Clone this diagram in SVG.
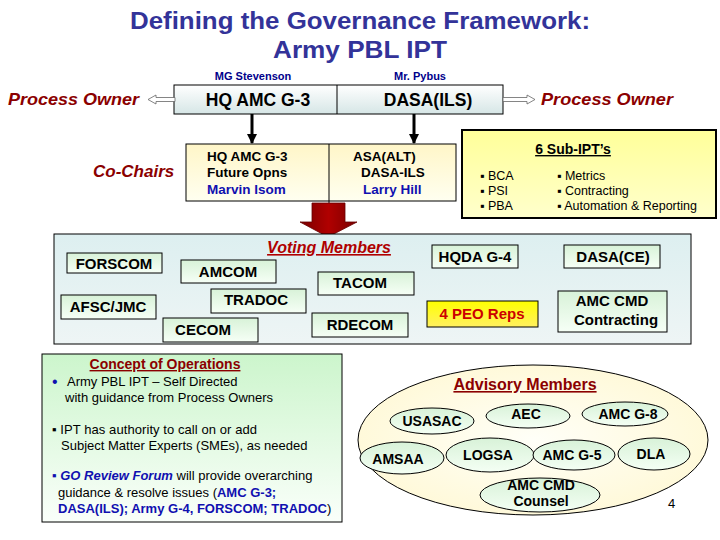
<svg xmlns="http://www.w3.org/2000/svg" width="720" height="540" viewBox="0 0 720 540">
<defs>
<linearGradient id="gTop" x1="0" y1="0" x2="0" y2="1"><stop offset="0" stop-color="#FFFFFF"/><stop offset="1" stop-color="#D6E6E6"/></linearGradient>
<linearGradient id="gCo" x1="0" y1="0" x2="0" y2="1"><stop offset="0" stop-color="#FFF6C8"/><stop offset="1" stop-color="#FFFFF0"/></linearGradient>
<linearGradient id="gSub" x1="0" y1="0" x2="0" y2="1"><stop offset="0" stop-color="#FFFF99"/><stop offset="1" stop-color="#FFFFCC"/></linearGradient>
<linearGradient id="gVote" x1="0" y1="0" x2="0" y2="1"><stop offset="0" stop-color="#DDEFF0"/><stop offset="1" stop-color="#EEF5F5"/></linearGradient>
<linearGradient id="gItem" x1="0" y1="0" x2="0" y2="1"><stop offset="0" stop-color="#D8F2D8"/><stop offset="1" stop-color="#F6FFF6"/></linearGradient>
<linearGradient id="gPeo" x1="0" y1="0" x2="0" y2="1"><stop offset="0" stop-color="#FFFF00"/><stop offset="1" stop-color="#FFF060"/></linearGradient>
<linearGradient id="gConc" x1="0" y1="0" x2="0" y2="1"><stop offset="0" stop-color="#CCF5CC"/><stop offset="1" stop-color="#FAFFFA"/></linearGradient>
<radialGradient id="gAdv" cx="0.5" cy="0.5" r="0.6"><stop offset="0" stop-color="#FFFFF8"/><stop offset="1" stop-color="#FFF8D4"/></radialGradient>
<linearGradient id="gEl" x1="0" y1="0" x2="0" y2="1"><stop offset="0" stop-color="#D8F2D8"/><stop offset="1" stop-color="#F4FFF4"/></linearGradient>
<linearGradient id="gRed" x1="0" y1="0" x2="1" y2="0"><stop offset="0" stop-color="#7A0000"/><stop offset="0.5" stop-color="#B00000"/><stop offset="1" stop-color="#7A0000"/></linearGradient>
<marker id="ah" viewBox="0 0 10 10" refX="9" refY="5" markerWidth="3.5" markerHeight="3.5" orient="auto"><path d="M0,0 L10,5 L0,10 z" fill="#000"/></marker>
</defs>
<style>
text{font-family:"Liberation Sans",Arial,sans-serif}
.title{font-size:24px;font-weight:bold;fill:#333399}
.po{font-size:17px;font-weight:bold;font-style:italic;fill:#8B0000}
.name{font-size:11px;font-weight:bold;fill:#00008B}
.big{font-size:17.5px;font-weight:bold;fill:#000}
.co{font-size:13.5px;font-weight:bold;fill:#000}
.blue{fill:#1010B0}
.sub{font-size:12.5px;fill:#000}
.item{font-size:15px;font-weight:bold;fill:#000;text-anchor:middle}
.bx{stroke:#000;stroke-width:1}
.conc{font-size:13px;fill:#000}
.hd{font-size:14px;font-weight:bold;fill:#8B0000;text-decoration:underline}
.el{stroke:#000;stroke-width:1;fill:url(#gEl)}
.adv{font-size:14px;font-weight:bold;fill:#000;text-anchor:middle}
</style>

<g id="title">
<text class="title" x="360" y="29" text-anchor="middle" textLength="460" lengthAdjust="spacingAndGlyphs">Defining the Governance Framework:</text>
<text class="title" x="360" y="58" text-anchor="middle" textLength="174" lengthAdjust="spacingAndGlyphs">Army PBL IPT</text>
</g>

<g id="labels">
<text class="po" x="8" y="105" textLength="131" lengthAdjust="spacingAndGlyphs">Process Owner</text>
<text class="po" x="541" y="105" textLength="132" lengthAdjust="spacingAndGlyphs">Process Owner</text>
<text class="po" x="93" y="177">Co-Chairs</text>
<text class="name" x="253" y="80" text-anchor="middle">MG Stevenson</text>
<text class="name" x="420" y="80" text-anchor="middle">Mr. Pybus</text>
</g>

<g id="top-box">
<rect x="174" y="85" width="329" height="29" fill="url(#gTop)" class="bx"/>
<line x1="337" y1="85" x2="337" y2="114" stroke="#000" stroke-width="1"/>
<text class="big" x="258" y="106" text-anchor="middle">HQ AMC G-3</text>
<text class="big" x="428" y="106" text-anchor="middle">DASA(ILS)</text>
</g>

<g id="cochair-box">
<rect x="186" y="144" width="270" height="57" fill="url(#gCo)" class="bx"/>
<line x1="329" y1="144" x2="329" y2="215" stroke="#000" stroke-width="1"/>
<text class="co" x="207" y="161">HQ AMC G-3</text>
<text class="co" x="207" y="177">Future Opns</text>
<text class="co blue" x="207" y="194">Marvin Isom</text>
<text class="co" x="353" y="161">ASA(ALT)</text>
<text class="co" x="361" y="177">DASA-ILS</text>
<text class="co blue" x="363" y="194">Larry Hill</text>
</g>

<g id="subipt-box">
<rect x="462" y="130" width="254" height="88" fill="url(#gSub)" stroke="#000" stroke-width="2"/>
<text x="573" y="154" text-anchor="middle" style="font-size:14px;font-weight:bold;text-decoration:underline">6 Sub-IPT’s</text>
<text class="sub" x="480" y="180">▪ BCA</text>
<text class="sub" x="480" y="195">▪ PSI</text>
<text class="sub" x="480" y="210">▪ PBA</text>
<text class="sub" x="557" y="180">▪ Metrics</text>
<text class="sub" x="557" y="195">▪ Contracting</text>
<text class="sub" x="557" y="210">▪ Automation &amp; Reporting</text>
</g>

<g id="connectors">
<polygon points="175,97.5 156,97.5 156,95 148,99.5 156,104 156,101.5 175,101.5" fill="#fff" stroke="#666" stroke-width="0.8"/>
<polygon points="503,97.5 527,97.5 527,95 535,99.5 527,104 527,101.5 503,101.5" fill="#fff" stroke="#666" stroke-width="0.8"/>
<line x1="252" y1="114" x2="252" y2="143" stroke="#000" stroke-width="3" marker-end="url(#ah)"/>
<line x1="414" y1="114" x2="414" y2="143" stroke="#000" stroke-width="3" marker-end="url(#ah)"/>
<polygon points="312,203 345,203 345,222 357,222 328,237 300,222 312,222" fill="url(#gRed)" stroke="#600" stroke-width="0.8"/>
</g>

<g id="voting-box">
<rect x="54" y="234" width="637" height="110" fill="url(#gVote)" class="bx"/>
<text x="329" y="253" text-anchor="middle" style="font-size:16px;font-weight:bold;font-style:italic;fill:#B00000;text-decoration:underline">Voting Members</text>
</g>

<g id="forscom"><rect x="67" y="253" width="95" height="20" fill="url(#gItem)" class="bx"/><text class="item" x="114" y="269">FORSCOM</text></g>
<g id="amcom"><rect x="181" y="260" width="95" height="23" fill="url(#gItem)" class="bx"/><text class="item" x="228" y="277">AMCOM</text></g>
<g id="afsc"><rect x="61" y="295" width="95" height="24" fill="url(#gItem)" class="bx"/><text class="item" x="108" y="312">AFSC/JMC</text></g>
<g id="tradoc"><rect x="211" y="289" width="95" height="24" fill="url(#gItem)" class="bx"/><text class="item" x="256" y="305">TRADOC</text></g>
<g id="cecom"><rect x="163" y="318" width="95" height="24" fill="url(#gItem)" class="bx"/><text class="item" x="203" y="335">CECOM</text></g>
<g id="tacom"><rect x="318" y="272" width="96" height="23" fill="url(#gItem)" class="bx"/><text class="item" x="360" y="288">TACOM</text></g>
<g id="rdecom"><rect x="312" y="313" width="96" height="24" fill="url(#gItem)" class="bx"/><text class="item" x="360" y="330">RDECOM</text></g>
<g id="hqda"><rect x="432" y="245" width="86" height="23" fill="url(#gItem)" class="bx"/><text class="item" x="475" y="262">HQDA G-4</text></g>
<g id="dasace"><rect x="564" y="245" width="96" height="23" fill="url(#gItem)" class="bx"/><text class="item" x="613" y="262">DASA(CE)</text></g>
<g id="peo"><rect x="427" y="301" width="111" height="26" fill="url(#gPeo)" class="bx"/><text class="item" x="482" y="319" style="fill:#CC0000">4 PEO Reps</text></g>
<g id="amccontract"><rect x="558" y="291" width="109" height="41" fill="url(#gItem)" class="bx"/><text class="item" x="612" y="306">AMC CMD</text><text class="item" x="616" y="325">Contracting</text></g>

<g id="concept-box">
<rect x="42" y="354" width="300" height="168" fill="url(#gConc)" class="bx"/>
<text class="hd" x="165" y="369" text-anchor="middle">Concept of Operations</text>
<text x="52" y="387" style="font-size:16px;fill:#1010B0">•</text>
<text class="conc" x="67" y="386">Army PBL IPT – Self Directed</text>
<text class="conc" x="65" y="402">with guidance from Process Owners</text>
<text class="conc" x="52" y="434" textLength="205" lengthAdjust="spacing">▪ IPT has authority to call on or add</text>
<text class="conc" x="61" y="450">Subject Matter Experts (SMEs), as needed</text>
<text class="conc" x="52" y="480"><tspan style="fill:#1010B0">▪ </tspan><tspan style="font-weight:bold;font-style:italic;fill:#1010B0">GO Review Forum</tspan> will provide overarching</text>
<text class="conc" x="58" y="497">guidance &amp; resolve issues (<tspan style="font-weight:bold;fill:#1010B0">AMC G-3;</tspan></text>
<text class="conc" x="58" y="513"><tspan style="font-weight:bold;fill:#1010B0">DASA(ILS); Army G-4, FORSCOM; TRADOC</tspan>)</text>
</g>

<g id="advisory">
<ellipse cx="533" cy="440" rx="175" ry="75" fill="url(#gAdv)" stroke="#000" stroke-width="1"/>
<text class="hd" x="525" y="390" text-anchor="middle" style="font-size:16px">Advisory Members</text>
</g>
<g id="usasac"><ellipse class="el" cx="432" cy="421" rx="42" ry="13"/><text class="adv" x="432" y="426">USASAC</text></g>
<g id="aec"><ellipse class="el" cx="528" cy="416" rx="42" ry="12"/><text class="adv" x="526" y="419">AEC</text></g>
<g id="amcg8"><ellipse class="el" cx="625" cy="414" rx="43" ry="12"/><text class="adv" x="628" y="419">AMC G-8</text></g>
<g id="amsaa"><ellipse class="el" cx="402" cy="458" rx="42" ry="16"/><text class="adv" x="398" y="464">AMSAA</text></g>
<g id="logsa"><ellipse class="el" cx="490" cy="455" rx="44" ry="17"/><text class="adv" x="488" y="460">LOGSA</text></g>
<g id="amcg5"><ellipse class="el" cx="574" cy="455" rx="41" ry="15"/><text class="adv" x="572" y="460">AMC G-5</text></g>
<g id="dla"><ellipse class="el" cx="654" cy="454" rx="36" ry="16"/><text class="adv" x="651" y="459">DLA</text></g>
<g id="counsel"><ellipse class="el" cx="540" cy="495" rx="60" ry="17"/><text class="adv" x="541" y="490">AMC CMD</text><text class="adv" x="541" y="506">Counsel</text></g>

<text x="668" y="508" style="font-size:13px;fill:#000">4</text>
</svg>
